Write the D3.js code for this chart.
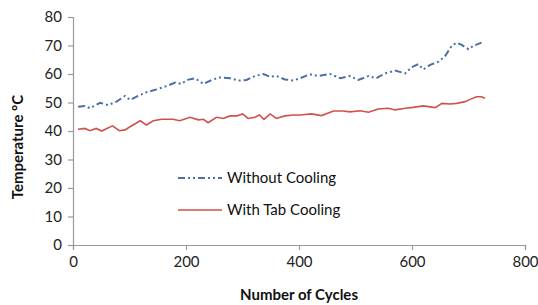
<!DOCTYPE html>
<html>
<head>
<meta charset="utf-8">
<script src="https://cdn.jsdelivr.net/npm/d3@7"></script>
<style>
  body { margin: 0; background: #fff; }
  svg { display: block; }
</style>
</head>
<body>
<script>
// Data
const cyclesNoCool = [9,21,30,48,62,77,92,101,115,130,148,166,181,192,201,216,231,245,260,278,293,307,322,337,349,360,375,390,402,419,434,455,473,490,505,523,537,552,570,588,599,611,620,632,647,658,670,679,688,700,708,723];
const tempNoCool = [48.5,48.8,48,49.9,49.1,50.3,52.3,50.9,52.3,53.6,54.6,55.8,57,56.5,57.9,58.5,56.5,57.9,58.8,58.5,57.7,57.9,59.3,60,59,59.3,58.1,57.7,58.5,59.9,59.3,60,58.5,59.3,57.9,59.3,58.5,60.2,61.2,60.2,62.3,63.5,61.6,63.2,64.3,66.1,69.8,71,70.2,68.7,69.8,71];

const cyclesTab = [9,21,30,41,51,60,70,82,92,101,119,130,142,157,177,189,207,222,231,239,254,266,278,290,300,310,322,330,338,349,360,375,390,402,422,440,461,478,490,508,523,540,558,570,588,602,620,641,653,667,679,694,703,714,723,729];
const tempTab = [40.6,40.9,40.1,40.9,40,40.9,41.8,40.1,40.4,41.5,43.6,42.1,43.6,44.1,44.1,43.6,44.8,43.9,44.1,42.9,44.8,44.4,45.3,45.3,46,44.4,44.8,45.6,44.1,46,44.4,45.3,45.6,45.6,46,45.4,47,47,46.7,47.1,46.6,47.7,48,47.4,48,48.3,48.8,48.2,49.7,49.5,49.7,50.3,51.1,52,52,51.5];

const xTicks = [0, 200, 400, 600, 800];
const yTicks = [0, 10, 20, 30, 40, 50, 60, 70, 80];
const seriesNames = ['Without Cooling', 'With Tab Cooling'];

const width = 538, height = 305;
const margin = { top: 17, right: 13, bottom: 60, left: 73 };
const font = 'Lato, "Open Sans", sans-serif';
const axisColor = '#9a9a9a';

const svg = d3.select('body').append('svg')
  .attr('width', width)
  .attr('height', height);

const x = d3.scaleLinear().domain([0, 800]).range([margin.left, width - margin.right]);
const y = d3.scaleLinear().domain([0, 80]).range([height - margin.bottom, margin.top]);

// axes
const xAxis = svg.append('g')
  .attr('transform', `translate(0,${y(0)})`)
  .call(d3.axisBottom(x).tickValues(xTicks).tickSize(5).tickPadding(6));
const yAxis = svg.append('g')
  .attr('transform', `translate(${x(0)},0)`)
  .call(d3.axisLeft(y).tickValues(yTicks).tickSize(5).tickPadding(6));

[xAxis, yAxis].forEach(a => {
  a.select('.domain').attr('stroke', axisColor).attr('stroke-width', 1.2);
  a.selectAll('.tick line').attr('stroke', axisColor).attr('stroke-width', 1.2);
  a.selectAll('.tick text')
    .attr('fill', '#222')
    .style('font-family', font)
    .style('font-size', '15px');
});

// lines
const line = (xs, ys) => d3.line()
  .x((d, i) => x(xs[i]))
  .y(d => y(d))(ys);

svg.append('path')
  .attr('d', line(cyclesNoCool, tempNoCool))
  .attr('fill', 'none')
  .attr('stroke', '#4a6fa8')
  .attr('stroke-width', 2)
  .attr('stroke-dasharray', '7,3,2,3,2,3');

svg.append('path')
  .attr('d', line(cyclesTab, tempTab))
  .attr('fill', 'none')
  .attr('stroke', '#d0504c')
  .attr('stroke-width', 1.6);

// legend
const legend = svg.append('g');
const legendRows = [
  { name: seriesNames[0], y: 178, color: '#4a6fa8', dash: '7,3,2,3,2,3', w: 2 },
  { name: seriesNames[1], y: 210, color: '#d0504c', dash: null, w: 1.6 }
];
legendRows.forEach(r => {
  legend.append('line')
    .attr('x1', 178).attr('x2', 222)
    .attr('y1', r.y).attr('y2', r.y)
    .attr('stroke', r.color)
    .attr('stroke-width', r.w)
    .attr('stroke-dasharray', r.dash);
  legend.append('text')
    .attr('x', 227).attr('y', r.y + 5)
    .attr('fill', '#111')
    .style('font-family', font)
    .style('font-size', '15px')
    .text(r.name);
});

// axis titles
svg.append('text')
  .attr('x', (x(0) + x(800)) / 2)
  .attr('y', 300)
  .attr('text-anchor', 'middle')
  .style('font-family', font)
  .style('font-size', '15px')
  .style('font-weight', 'bold')
  .attr('fill', '#111')
  .text('Number of Cycles');

svg.append('text')
  .attr('transform', 'translate(23,147) rotate(-90)')
  .attr('text-anchor', 'middle')
  .style('font-family', font)
  .style('font-size', '15px')
  .style('font-weight', 'bold')
  .attr('fill', '#111')
  .text('Temperature °C');
</script>
</body>
</html>
